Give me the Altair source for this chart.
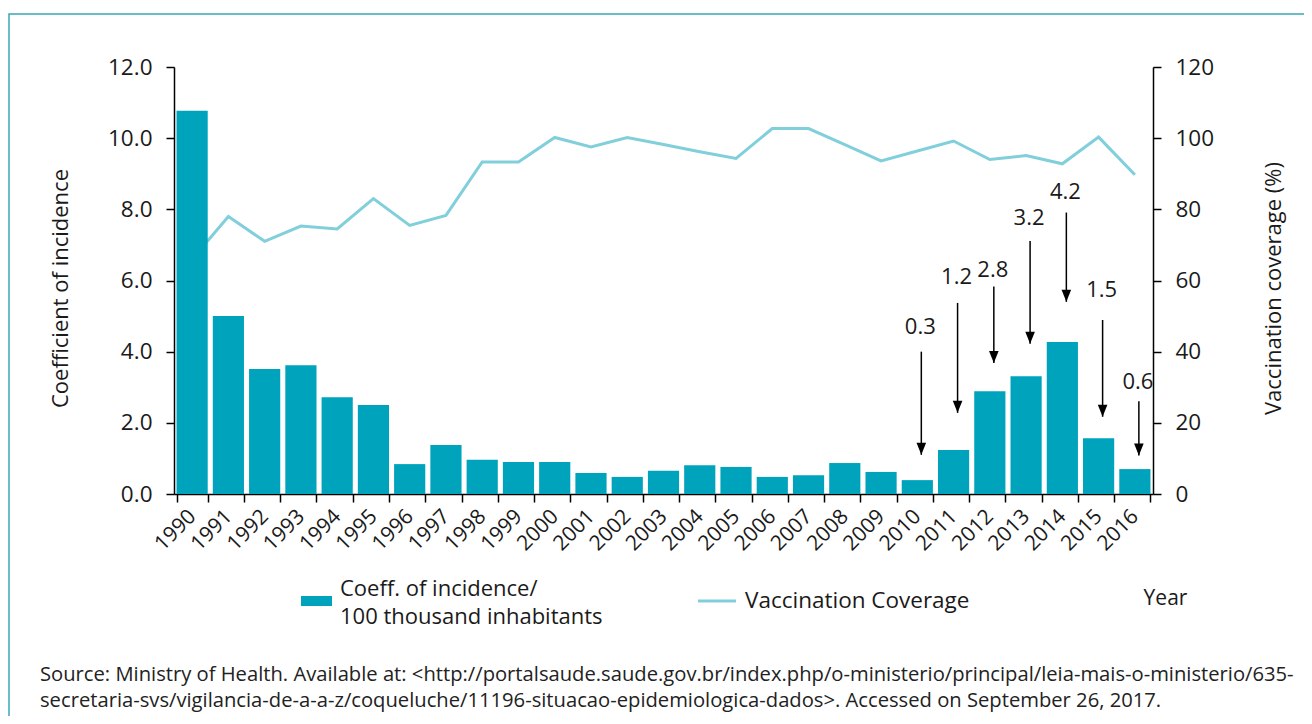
import altair as alt
import pandas as pd

# ---------------- data ----------------
years = [str(y) for y in range(1990, 2017)]
incidence = [10.77, 5.0, 3.51, 3.62, 2.72, 2.5, 0.84, 1.38, 0.96, 0.9, 0.9, 0.59, 0.48,
             0.65, 0.81, 0.76, 0.48, 0.53, 0.87, 0.62, 0.39, 1.24, 2.89, 3.31, 4.27, 1.57, 0.7]
coverage = [66, 78, 71, 75.3, 74.5, 83, 75.5, 78.3, 93.3, 93.3, 100.2, 97.5, 100.2,
            98.2, 96.2, 94.3, 102.7, 102.7, 98.2, 93.6, 96.4, 99.2, 94.0, 95.1, 92.8, 100.3, 89.7]

ann_years = ["2010", "2011", "2012", "2013", "2014", "2015", "2016"]
ann_labels = ["0.3", "1.2", "2.8", "3.2", "4.2", "1.5", "0.6"]
ann_label_y = [4.70, 6.11, 6.30, 7.76, 8.50, 5.73, 3.16]
ann_start = [4.00, 5.37, 5.83, 7.11, 7.91, 4.89, 2.61]
ann_end = [1.10, 2.28, 3.68, 4.22, 5.40, 2.17, 1.08]

y_left_ticks = [0, 2, 4, 6, 8, 10, 12]
y_right_ticks = [0, 20, 40, 60, 80, 100, 120]

legend_bar_text = ["Coeff. of incidence/", "100 thousand inhabitants"]
legend_line_text = "Vaccination Coverage"
source_lines = [
    "Source: Ministry of Health. Available at: <http://portalsaude.saude.gov.br/index.php/o-ministerio/principal/leia-mais-o-ministerio/635-",
    "secretaria-svs/vigilancia-de-a-a-z/coqueluche/11196-situacao-epidemiologica-dados>. Accessed on September 26, 2017.",
]

df = pd.DataFrame({"year": years, "incidence": incidence, "coverage": coverage})
ann = pd.DataFrame({"year": ann_years, "label": ann_labels, "label_y": ann_label_y,
                    "start": ann_start, "end": ann_end})

# ---------------- style ----------------
FONT = "Open Sans"
BAR = "#00a3bc"
LINE = "#80cfdb"
INK = "#1a1a1a"
FRAME = "#3aa6b5"
W, H = 979, 427

xscale = alt.Scale(paddingInner=0.14, paddingOuter=0.07)
x_axis_def = alt.Axis(title="Year", labelAngle=-45, labelAlign="right",
                      labelBaseline="middle", labelFontSize=21, labelPadding=11,
                      tickBand="extent", tickSize=8, tickWidth=1.5, domainWidth=1.5,
                      titleX=991, titleY=104, titleAngle=0, titleAlign="center",
                      titleBaseline="middle", titleFontSize=21,
                      titleFontWeight="normal")


def xenc():
    return alt.X("year:O", sort=years, scale=xscale, axis=x_axis_def)


lscale = alt.Scale(domain=[0, 12], nice=False)
rscale = alt.Scale(domain=[0, 120], nice=False)

line = alt.Chart(df).mark_line(color=LINE, strokeWidth=3).encode(
    x=xenc(),
    y=alt.Y("coverage:Q", scale=rscale,
            axis=alt.Axis(orient="right", values=y_right_ticks, format="d",
                          title="Vaccination coverage (%)", labelFontSize=22.5,
                          labelPadding=14, tickSize=8, tickWidth=1.5, domainWidth=1.5,
                          titleFontSize=22, titleFontWeight="normal",
                          titleX=120, titleY=221, titleAngle=-90,
                          titleAlign="center", titleBaseline="middle")),
)

bars = alt.Chart(df).mark_bar(color=BAR).encode(
    x=xenc(),
    y=alt.Y("incidence:Q", scale=lscale,
            axis=alt.Axis(orient="left", values=y_left_ticks, format=".1f",
                          title="Coefficient of incidence", labelFontSize=22.5,
                          labelPadding=14, tickSize=8, tickWidth=1.5, domainWidth=1.5,
                          titleFontSize=22, titleFontWeight="normal",
                          titleX=-114, titleY=221, titleAngle=-90,
                          titleAlign="center", titleBaseline="middle")),
)

rules = alt.Chart(ann).mark_rule(color="black", strokeWidth=1.5, xOffset=4).encode(
    x=xenc(),
    y=alt.Y("start:Q", scale=lscale, axis=None),
    y2="end:Q",
)
heads = alt.Chart(ann).mark_point(shape="M-0.8,-1L0.8,-1L0,1Z", size=144, filled=True,
                                  color="black", opacity=1, xOffset=4, yOffset=-6).encode(
    x=xenc(),
    y=alt.Y("end:Q", scale=lscale, axis=None),
)
labels = alt.Chart(ann).mark_text(font=FONT, fontSize=22, color=INK, baseline="middle",
                                  xOffset=3).encode(
    x=xenc(),
    y=alt.Y("label_y:Q", scale=lscale, axis=None),
    text="label:N",
)

one = pd.DataFrame({"k": [0]})

frame = alt.Chart(one).mark_rect(fillOpacity=0, stroke=FRAME, strokeWidth=1.5).encode(
    x=alt.value(-165), x2=alt.value(1300), y=alt.value(-53), y2=alt.value(900))

leg_swatch = alt.Chart(one).mark_rect(color=BAR).encode(
    x=alt.value(127), x2=alt.value(158), y=alt.value(529), y2=alt.value(539))
leg_text1 = alt.Chart(one).mark_text(font=FONT, fontSize=22, color=INK, align="left",
                                     baseline="middle", lineHeight=28).encode(
    x=alt.value(166), y=alt.value(522), text=alt.value(legend_bar_text))
leg_line = alt.Chart(one).mark_rule(color=LINE, strokeWidth=3).encode(
    x=alt.value(524), x2=alt.value(562), y=alt.value(534))
leg_text2 = alt.Chart(one).mark_text(font=FONT, fontSize=22.5, color=INK, align="left",
                                     baseline="middle").encode(
    x=alt.value(571), y=alt.value(534), text=alt.value(legend_line_text))
source = alt.Chart(one).mark_text(font=FONT, fontSize=20.2, color="#222222", align="left",
                                  baseline="middle", lineHeight=26).encode(
    x=alt.value(-134), y=alt.value(608), text=alt.value(source_lines))

chart = alt.layer(
    frame, line, bars, rules, heads, labels,
    leg_swatch, leg_text1, leg_line, leg_text2, source
).resolve_scale(y="independent").properties(
    width=W, height=H,
    padding={"left": 166, "top": 59, "right": 151, "bottom": 222},
    autosize=alt.AutoSizeParams(type="none"),
).configure_axis(
    labelFont=FONT, titleFont=FONT, domainColor="black", tickColor="black",
    labelColor=INK, titleColor=INK, grid=False,
).configure_view(stroke=None)

chart.save("out.html", embed_options={"renderer": "svg", "actions": False})
